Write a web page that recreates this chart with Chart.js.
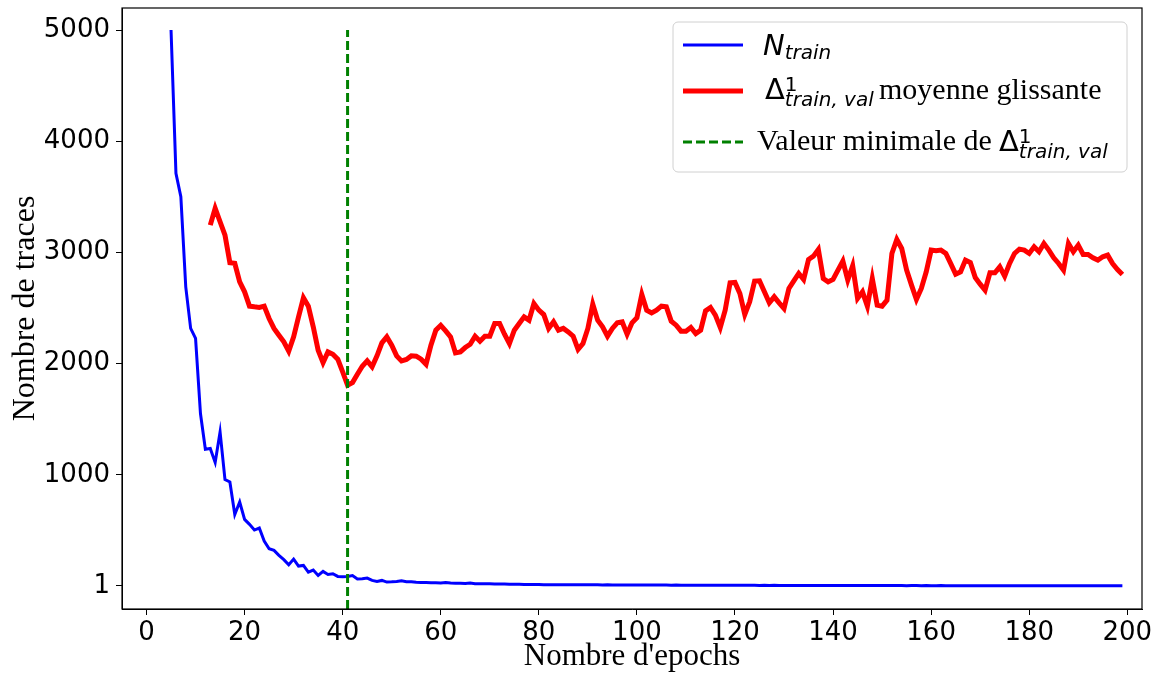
<!DOCTYPE html>
<html>
<head>
  <title>Nombre de traces</title>
  <script src="https://cdn.jsdelivr.net/npm/chart.js"></script>
  <style>
    body { margin: 0; background: #fff; }
  </style>
</head>
<body>
  <canvas id="tracesChart" width="1164" height="675"></canvas>

  <script>
    // N_train, epochs 5..199
    const blueStart = 5;
    const nTrain = [
      5000, 3711, 3501, 2691, 2317, 2227, 1552, 1230, 1237, 1111,
      1386, 958, 936, 643, 756, 600, 555, 504, 522, 405,
      336, 321, 276, 238, 192, 243, 180, 186, 126, 144,
      96, 132, 105, 111, 87, 85, 87, 94, 63, 66,
      72, 51, 42, 51, 36, 38, 42, 48, 40, 38,
      35, 33, 32, 30, 30, 28, 32, 27, 25, 26,
      24, 28, 22, 21, 20, 20, 19, 18, 18, 17,
      17, 16, 15, 15, 14, 14,
      13, 13, 12, 13, 12, 12, 12, 11, 12, 11,
      11, 11, 10, 11, 10, 10, 10, 10, 9, 10,
      9, 9, 10, 9, 9, 9, 8, 9, 8, 8,
      8, 8, 8, 7, 8, 7, 8, 7, 7, 7,
      7, 7, 7, 7, 6, 7, 6, 7, 6, 6,
      6, 6, 6, 6, 6, 5, 6, 6, 5, 6,
      5, 5, 6, 5, 5, 5, 5, 5, 5, 5,
      5, 5, 5, 5, 4, 5, 5, 4, 5, 4,
      4, 5, 4, 4, 4, 4, 4, 4, 4, 4,
      4, 4, 4, 4, 3, 4, 4, 3, 4, 3,
      3, 4, 3, 3, 3, 3, 3, 4, 3, 3,
      3, 3, 3, 3, 3, 3, 3, 3, 3
    ];

    // Delta^1_{train,val} moving average, epochs 13..199
    const redStart = 13;
    const deltaAvg = [
      3246, 3397, 3276, 3156, 2907, 2902, 2736, 2646, 2517, 2511,
      2506, 2517, 2406, 2317, 2256, 2196, 2112, 2241, 2421, 2592,
      2517, 2331, 2121, 2010, 2106, 2085, 2040, 1926, 1806, 1830,
      1905, 1977, 2025, 1971, 2070, 2187, 2241, 2166, 2070, 2025,
      2038, 2070, 2067, 2040, 1995, 2166, 2301, 2345, 2295, 2241,
      2097, 2106, 2145, 2175, 2247, 2202, 2247, 2247, 2361, 2361,
      2265, 2181, 2301, 2361, 2421, 2391, 2541, 2481, 2442, 2317,
      2376, 2301, 2317, 2286, 2247, 2128, 2181, 2317, 2535, 2391,
      2331, 2247, 2317, 2367, 2376, 2265, 2367, 2412, 2622, 2481,
      2457, 2481, 2517, 2511, 2382, 2346, 2292, 2292, 2325, 2271,
      2301, 2475, 2505, 2436, 2325, 2481, 2727, 2730, 2631, 2442,
      2556, 2742, 2745, 2646, 2547, 2601, 2547, 2496, 2676, 2745,
      2811, 2757, 2937, 2967, 3027, 2766, 2736, 2757, 2841, 2922,
      2751, 2880, 2586, 2646, 2517, 2766, 2526, 2517, 2571, 2991,
      3117, 3036, 2841, 2706, 2577, 2676, 2826, 3021, 3015, 3021,
      2991, 2900, 2805, 2826, 2931, 2910, 2775, 2715, 2661, 2817,
      2817, 2871, 2787, 2901, 2991, 3030, 3021, 2991, 3051, 3006,
      3081, 3021, 2952, 2901, 2841, 3081, 3006, 3066, 2982, 2982,
      2952, 2931, 2961, 2976, 2901, 2847, 2802
    ];

    const minEpoch = 41;
    const xTicks = [0, 20, 40, 60, 80, 100, 120, 140, 160, 180, 200];
    const yTicks = [1, 1000, 2000, 3000, 4000, 5000];
    const yMin = -206, yMax = 5198;

    const bluePts = nTrain.map((v, i) => ({ x: blueStart + i, y: v }));
    const redPts = deltaAvg.map((v, i) => ({ x: redStart + i, y: v }));
    const greenPts = [{ x: minEpoch, y: yMin }, { x: minEpoch, y: 5000 }];

    const SANS = '"DejaVu Sans"';
    const SERIF = '"Liberation Serif"';

    // draws text chunks one after another (math-like legend labels)
    function drawParts(c, x, y, parts) {
      let cx = x;
      parts.forEach(p => {
        c.font = p.f;
        c.fillText(p.t, cx + (p.dx || 0), y + (p.dy || 0));
        if (!p.stay) cx += c.measureText(p.t).width + (p.dx || 0);
      });
    }

    const framePlugin = {
      id: 'frameAndLegend',
      afterDraw(chart) {
        const c = chart.ctx;
        const a = chart.chartArea;
        c.save();
        c.strokeStyle = '#000';
        c.lineWidth = 1.2;
        c.strokeRect(a.left, a.top, a.right - a.left, a.bottom - a.top);

        // legend box
        c.beginPath();
        c.roundRect(673, 22, 454, 150, 5);
        c.fillStyle = 'rgba(255,255,255,0.8)';
        c.fill();
        c.strokeStyle = '#d0d0d0';
        c.lineWidth = 1;
        c.stroke();

        // handles
        c.lineCap = 'butt';
        c.strokeStyle = '#0000ff'; c.lineWidth = 3;
        c.beginPath(); c.moveTo(683, 45); c.lineTo(743, 45); c.stroke();
        c.strokeStyle = '#ff0000'; c.lineWidth = 5;
        c.beginPath(); c.moveTo(683, 91); c.lineTo(743, 91); c.stroke();
        c.strokeStyle = '#008000'; c.lineWidth = 3; c.setLineDash([9, 4]);
        c.beginPath(); c.moveTo(683, 142); c.lineTo(743, 142); c.stroke();
        c.setLineDash([]);

        c.fillStyle = '#000';
        c.textBaseline = 'alphabetic';
        c.textAlign = 'left';
        const big = 'italic 29px ' + SANS;
        const small = 'italic 20px ' + SANS;
        const upBig = '29px ' + SANS;
        const upSmall = '20px ' + SANS;
        const serif = '30px ' + SERIF;

        drawParts(c, 763, 55, [
          { t: 'N', f: big },
          { t: 'train', f: small, dy: 4 }
        ]);
        drawParts(c, 765, 99, [
          { t: 'Δ', f: upBig },
          { t: '1', f: upSmall, dy: -8, stay: true },
          { t: 'train, val', f: small, dy: 7 }
        ]);
        c.font = serif;
        c.fillText('moyenne glissante', 879, 99);
        c.fillText('Valeur minimale de', 757, 150);
        drawParts(c, 999, 151, [
          { t: 'Δ', f: upBig },
          { t: '1', f: upSmall, dy: -8, stay: true },
          { t: 'train, val', f: small, dy: 7 }
        ]);
        c.restore();
      }
    };

    const ctx = document.getElementById('tracesChart').getContext('2d');
    new Chart(ctx, {
      type: 'line',
      data: {
        datasets: [
          {
            label: 'N_train',
            data: bluePts,
            borderColor: '#0000ff',
            borderWidth: 3,
            pointRadius: 0,
            order: 3
          },
          {
            label: 'Δ¹ train,val moyenne glissante',
            data: redPts,
            borderColor: '#ff0000',
            borderWidth: 5,
            pointRadius: 0,
            order: 2
          },
          {
            label: 'Valeur minimale de Δ¹ train,val',
            data: greenPts,
            borderColor: '#008000',
            borderWidth: 3,
            borderDash: [9, 4],
            pointRadius: 0,
            order: 1
          }
        ]
      },
      options: {
        responsive: false,
        animation: false,
        layout: { padding: { top: 8, right: 22, left: 0, bottom: 0 } },
        plugins: {
          legend: { display: false },
          tooltip: { enabled: false }
        },
        scales: {
          x: {
            type: 'linear',
            min: -5,
            max: 203,
            afterBuildTicks: s => { s.ticks = xTicks.map(v => ({ value: v })); },
            afterFit: s => { s.height = 66; s.paddingLeft = 0; s.paddingRight = 0; },
            ticks: {
              color: '#000',
              font: { family: SANS, size: 26 },
              maxRotation: 0,
              autoSkip: false,
              padding: 3
            },
            grid: {
              drawOnChartArea: false,
              drawTicks: true,
              tickLength: 6,
              tickColor: '#000'
            },
            border: { color: '#000', width: 1 },
            title: {
              display: true,
              text: "Nombre d'epochs",
              color: '#000',
              font: { family: SERIF, size: 31 },
              padding: 0
            }
          },
          y: {
            min: yMin,
            max: yMax,
            afterBuildTicks: s => { s.ticks = yTicks.map(v => ({ value: v })); },
            afterFit: s => { s.width = 122; s.paddingTop = 0; s.paddingBottom = 0; },
            ticks: {
              color: '#000',
              font: { family: SANS, size: 26 },
              padding: 6,
              callback: v => String(v)
            },
            grid: {
              drawOnChartArea: false,
              drawTicks: true,
              tickLength: 6,
              tickColor: '#000'
            },
            border: { color: '#000', width: 1 },
            title: {
              display: true,
              text: 'Nombre de traces',
              color: '#000',
              font: { family: SERIF, size: 32 },
              padding: { top: 6, bottom: 0 }
            }
          }
        }
      },
      plugins: [framePlugin]
    });
  </script>
</body>
</html>
